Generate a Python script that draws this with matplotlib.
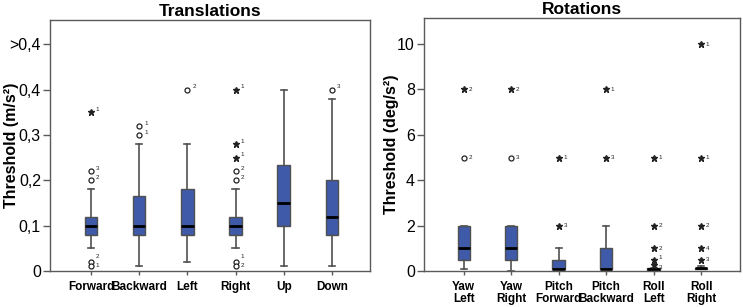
import matplotlib
matplotlib.use("Agg")
import matplotlib.pyplot as plt

plt.rcParams['font.family'] = ['Liberation Sans', 'DejaVu Sans']

# ---------------- data ----------------
trans_cats = ['Forward', 'Backward', 'Left', 'Right', 'Up', 'Down']
trans_whislo = [0.05, 0.01, 0.02, 0.05, 0.01, 0.01]
trans_q1 = [0.08, 0.08, 0.08, 0.08, 0.10, 0.08]
trans_med = [0.10, 0.10, 0.10, 0.10, 0.15, 0.12]
trans_q3 = [0.12, 0.165, 0.18, 0.12, 0.235, 0.20]
trans_whishi = [0.18, 0.28, 0.28, 0.18, 0.40, 0.38]
# outliers: category index, value, marker ('o' mild, '*' extreme), label
trans_out_cat = [0, 0, 0, 0, 0, 1, 1, 2, 3, 3, 3, 3, 3, 3, 3, 5]
trans_out_val = [0.20, 0.22, 0.35, 0.02, 0.01, 0.30, 0.32, 0.40,
                 0.20, 0.22, 0.25, 0.28, 0.40, 0.02, 0.01, 0.40]
trans_out_mk = ['o', 'o', '*', 'o', 'o', 'o', 'o', 'o',
                'o', 'o', '*', '*', '*', 'o', 'o', 'o']
trans_out_lbl = ['2', '3', '1', '2', '1', '1', '1', '2',
                 '2', '2', '1', '1', '1', '1', '2', '3']
trans_yticks = [0, 0.1, 0.2, 0.3, 0.4, 0.5]
trans_yticklabels = ['0', '0,1', '0,2', '0,3', '0,4', '>0,4']

rot_cats = ['Yaw\nLeft', 'Yaw\nRight', 'Pitch\nForward', 'Pitch\nBackward',
            'Roll\nLeft', 'Roll\nRight']
rot_whislo = [0.1, 0.0, 0.07, 0.07, 0.05, 0.08]
rot_q1 = [0.5, 0.5, 0.07, 0.07, 0.05, 0.08]
rot_med = [1.0, 1.0, 0.1, 0.1, 0.1, 0.12]
rot_q3 = [2.0, 2.0, 0.5, 1.0, 0.12, 0.15]
rot_whishi = [2.0, 2.0, 1.0, 2.0, 0.15, 0.2]
rot_out_cat = [0, 0, 1, 1, 2, 2, 3, 3, 4, 4, 4, 4, 4, 5, 5, 5, 5, 5]
rot_out_val = [5, 8, 5, 8, 2, 5, 5, 8, 0.25, 0.5, 1, 2, 5,
               0.5, 1, 2, 5, 10]
rot_out_mk = ['o', '*', 'o', '*', '*', '*', '*', '*', '*', '*', '*', '*', '*',
              '*', '*', '*', '*', '*']
rot_out_lbl = ['2', '2', '3', '2', '3', '1', '3', '1', '3', '1', '2', '2', '1',
               '3', '4', '2', '1', '1']
rot_yticks = [0, 2, 4, 6, 8, 10]
rot_yticklabels = ['0', '2', '4', '6', '8', '10']

# ---------------- style ----------------
BOX = '#3F5AA8'
EDGE = '#505050'
FRAME = '#5a5a5a'

fig = plt.figure(figsize=(7.43, 3.07), dpi=100)
ax1 = fig.add_axes([50 / 743, 36 / 307, 320 / 743, 251 / 307])
ax2 = fig.add_axes([424 / 743, 36 / 307, 316 / 743, 253 / 307])


def draw(ax, cats, wl, q1, med, q3, wh, oc, ov, om, ol, ylim, yt, ytl,
         ylabel, title, xlim, sup, labx):
    pos = list(range(1, len(cats) + 1))
    stats = []
    for i in range(len(cats)):
        stats.append(dict(whislo=wl[i], q1=q1[i], med=med[i], q3=q3[i],
                          whishi=wh[i], fliers=[]))
    ax.bxp(stats, positions=pos, widths=0.26, patch_artist=True,
           showfliers=False,
           boxprops=dict(facecolor=BOX, edgecolor=EDGE, linewidth=1.0),
           medianprops=dict(color='black', linewidth=2.0),
           whiskerprops=dict(color=EDGE, linewidth=1.2),
           capprops=dict(color=EDGE, linewidth=1.2))
    span = ylim[1] - ylim[0]
    for k, (c, v, m, l) in enumerate(zip(oc, ov, om, ol)):
        x = pos[c]
        if m == 'o':
            ax.plot(x, v, marker='o', ms=3.6, mfc='white', mec='#222222',
                    mew=0.9, ls='none', zorder=4)
        else:
            ax.plot(x, v, marker='*', ms=4.5, color='#222222', ls='none',
                    zorder=4)
        dy = span * (0.012 if sup else 0.0)
        # nudge labels of outliers that sit almost on top of each other
        for j, (c2, v2) in enumerate(zip(oc, ov)):
            if j != k and c2 == c and abs(v2 - v) < span * 0.03:
                dy += span * 0.01 * (1 if v > v2 else -1)
        ax.text(x + 0.1, v + dy, l, fontsize=4.5, va='center', ha='left',
                color='#222222')
    ax.set_xlim(*xlim)
    ax.set_ylim(*ylim)
    ax.set_xticks(pos)
    ax.set_xticklabels(cats, fontsize=8.5, fontweight='bold',
                       linespacing=1.05)
    ax.set_yticks(yt)
    ax.set_yticklabels(ytl, fontsize=11.5)
    ax.tick_params(axis='x', length=3, width=1, color=FRAME, pad=4)
    ax.tick_params(axis='y', length=5, width=1, color=FRAME, pad=1.5)
    for s in ax.spines.values():
        s.set_color(FRAME)
        s.set_linewidth(1.0)
    ax.set_ylabel(ylabel, fontsize=11.5, fontweight='bold')
    ax.yaxis.set_label_coords(labx, 0.5)
    ax.set_title(title, fontsize=12.5, fontweight='bold', pad=3)


draw(ax1, trans_cats, trans_whislo, trans_q1, trans_med, trans_q3,
     trans_whishi, trans_out_cat, trans_out_val, trans_out_mk, trans_out_lbl,
     (0, 0.554), trans_yticks, trans_yticklabels,
     'Threshold (m/s²)', 'Translations', (0.15, 6.79), True, -0.097)
draw(ax2, rot_cats, rot_whislo, rot_q1, rot_med, rot_q3, rot_whishi,
     rot_out_cat, rot_out_val, rot_out_mk, rot_out_lbl,
     (0, 11.15), rot_yticks, rot_yticklabels,
     'Threshold (deg/s²)', 'Rotations', (0.164, 6.82), False, -0.079)

fig.savefig('out.png', dpi=100)
